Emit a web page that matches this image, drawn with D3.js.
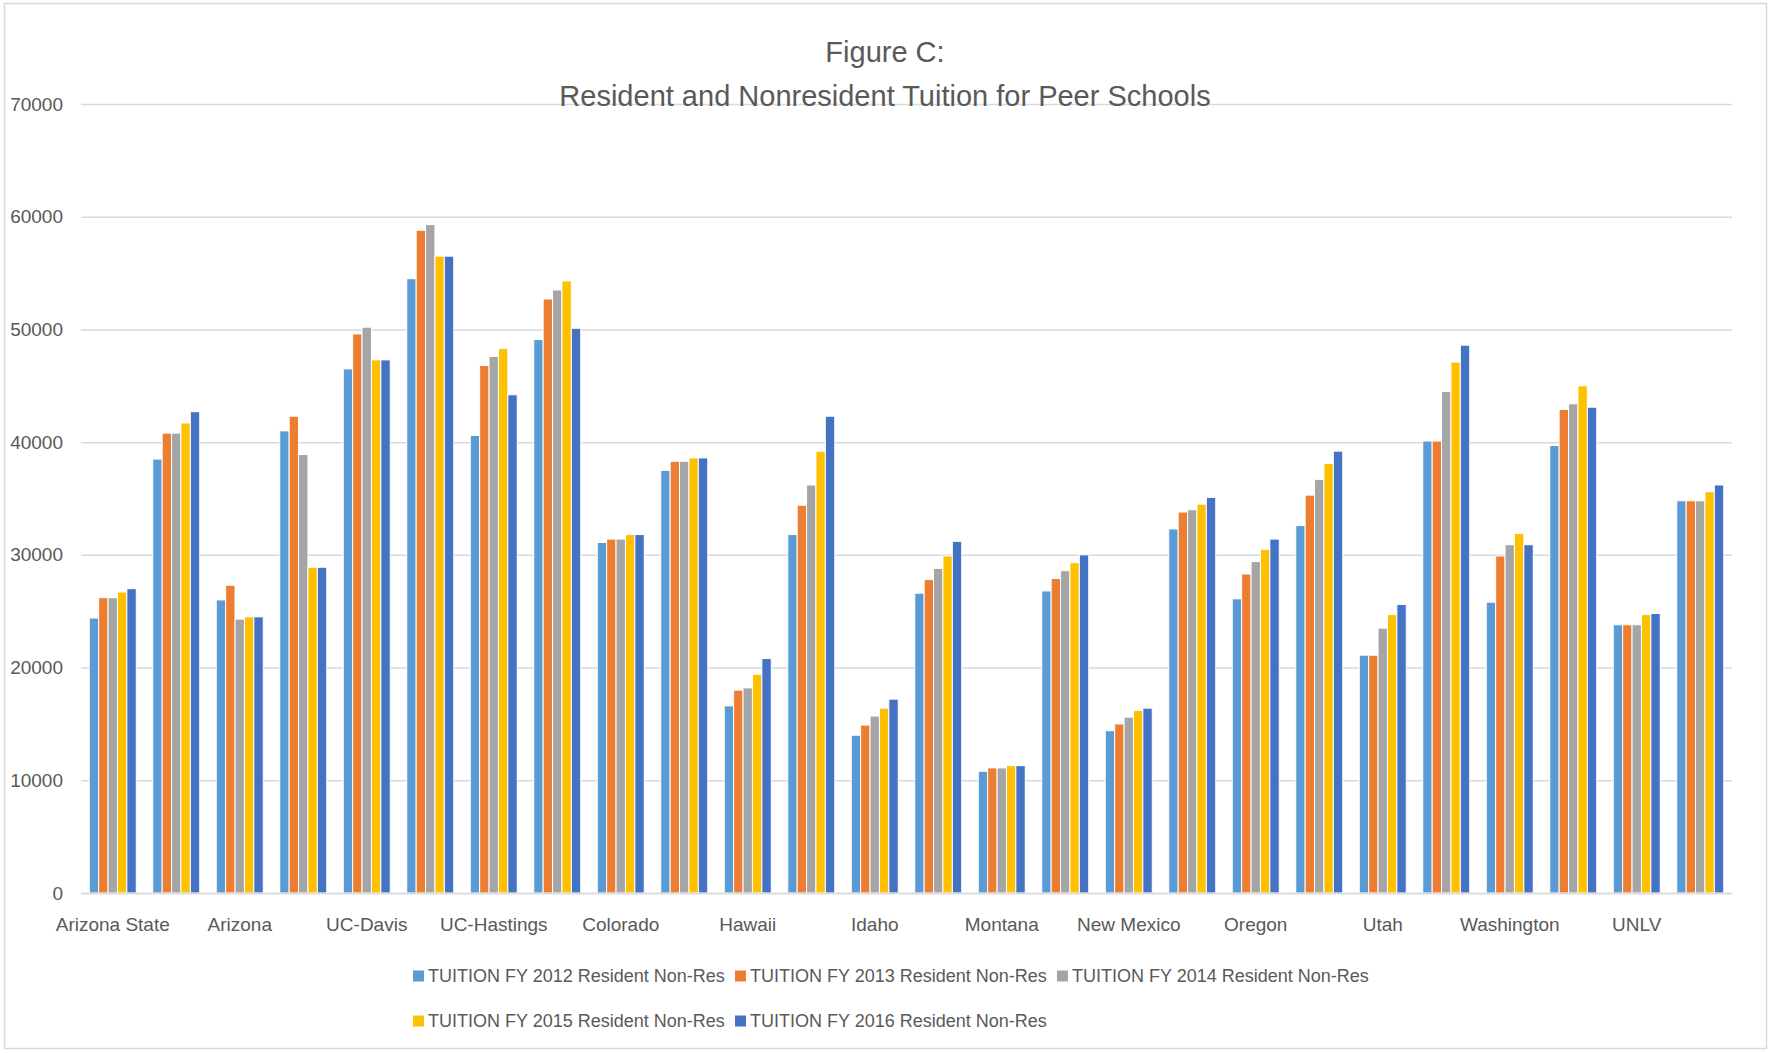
<!DOCTYPE html>
<html>
<head>
<meta charset="utf-8">
<script src="https://cdn.jsdelivr.net/npm/d3@7/dist/d3.min.js"></script>
<style>
  html, body { margin: 0; padding: 0; background: #fff; }
  svg { display: block; }
  text { font-family: "Liberation Sans", Arial, sans-serif; fill: #595959; }
</style>
</head>
<body>
<svg id="chart" width="1769" height="1053"></svg>
<script>
// ---- data ----
const schools = ["Arizona State","Arizona","UC-Davis","UC-Hastings","Colorado","Hawaii","Idaho","Montana","New Mexico","Oregon","Utah","Washington","UNLV"];
const residency = ["Resident","Non-Res"];
const seriesNames = [
  "TUITION FY 2012 Resident Non-Res",
  "TUITION FY 2013 Resident Non-Res",
  "TUITION FY 2014 Resident Non-Res",
  "TUITION FY 2015 Resident Non-Res",
  "TUITION FY 2016 Resident Non-Res"
];
const fy2012 = [24400,38500,26000,41000,46500,54500,40600,49100,31100,37500,16600,31800,14000,26600,10800,26800,14400,32300,26100,32600,21100,40100,25800,39700,23800,34800];
const fy2013 = [26200,40800,27300,42300,49600,58800,46800,52700,31400,38300,18000,34400,14900,27800,11100,27900,15000,33800,28300,35300,21100,40100,29900,42900,23800,34800];
const fy2014 = [26200,40800,24300,38900,50200,59300,47600,53500,31400,38300,18200,36200,15700,28800,11100,28600,15600,34000,29400,36700,23500,44500,30900,43400,23800,34800];
const fy2015 = [26700,41700,24500,28900,47300,56500,48300,54300,31800,38600,19400,39200,16400,29900,11300,29300,16200,34500,30500,38100,24700,47100,31900,45000,24700,35600];
const fy2016 = [27000,42700,24500,28900,47300,56500,44200,50100,31800,38600,20800,42300,17200,31200,11300,30000,16400,35100,31400,39200,25600,48600,30900,43100,24800,36200];
const yTicks = [0,10000,20000,30000,40000,50000,60000,70000];
const colors = ["#5B9BD5","#ED7D31","#A5A5A5","#FFC000","#4472C4"];

// ---- build ----
const categories = [];
schools.forEach(s => residency.forEach(r => categories.push(s + " " + r)));
const tickLabel = {};
schools.forEach(s => { tickLabel[s + " Resident"] = s; });
const seriesValues = [fy2012, fy2013, fy2014, fy2015, fy2016];

const svg = d3.select("#chart");
svg.append("rect").attr("x",4.5).attr("y",3.5).attr("width",1762).attr("height",1045)
  .attr("fill","#fff").attr("stroke","#d9d9d9").attr("stroke-width",1.5);

const plotL = 81, plotR = 1732, plotT = 104, plotB = 893;

const x0 = d3.scaleBand().domain(categories).range([plotL, plotR])
  .paddingInner(0.26).paddingOuter(0.13);
const x1 = d3.scaleBand().domain(d3.range(seriesNames.length)).range([0, x0.bandwidth()]);
const y = d3.scaleLinear().domain([0, 70000]).range([plotB, plotT]);

// gridlines
const grid = svg.append("g").attr("transform", `translate(${plotL},0)`)
  .call(d3.axisLeft(y).tickValues(yTicks).tickSize(-(plotR-plotL)).tickFormat(""));
grid.select(".domain").remove();
grid.selectAll("line").attr("stroke","#d9d9d9").attr("stroke-width",1.5);

// y labels
const yAxis = svg.append("g").attr("transform", `translate(63,0)`)
  .call(d3.axisLeft(y).tickValues(yTicks).tickSize(0).tickPadding(0).tickFormat(d3.format("d")));
yAxis.select(".domain").remove();
yAxis.selectAll("text").attr("font-size", 19).attr("fill","#595959")
  .style("font-family", '"Liberation Sans", Arial, sans-serif');

// title
const title = svg.append("text").attr("x", 885).attr("text-anchor","middle").attr("font-size", 29);
title.append("tspan").attr("x", 885).attr("y", 62).text("Figure C:");
title.append("tspan").attr("x", 885).attr("y", 106).text("Resident and Nonresident Tuition for Peer Schools");

// bars
const rows = categories.map((c, i) => ({ cat: c, vals: seriesValues.map(s => s[i]) }));
const groups = svg.append("g").selectAll("g").data(rows).join("g")
  .attr("transform", d => `translate(${x0(d.cat)},0)`);
groups.selectAll("rect").data(d => d.vals.map((v, k) => ({ v, k }))).join("rect")
  .attr("x", d => x1(d.k))
  .attr("width", x1.bandwidth())
  .attr("y", d => y(d.v))
  .attr("height", d => y(0) - y(d.v))
  .attr("fill", d => colors[d.k])
  .attr("stroke", "#fff").attr("stroke-width", 1);

// x axis
const xAxis = svg.append("g").attr("transform", `translate(0,${plotB})`)
  .call(d3.axisBottom(x0).tickSize(0).tickPadding(25).tickFormat(c => tickLabel[c] || ""));
xAxis.select(".domain").attr("stroke","#d9d9d9").attr("stroke-width",1.5);
xAxis.selectAll("text").attr("font-size", 19).attr("fill","#595959")
  .style("font-family", '"Liberation Sans", Arial, sans-serif');

// legend
const legendPos = [[413,976],[735,976],[1057,976],[413,1021],[735,1021]];
const legend = svg.append("g").selectAll("g").data(seriesNames).join("g")
  .attr("transform", (d, i) => `translate(${legendPos[i][0]},${legendPos[i][1]})`);
legend.append("rect").attr("x",0).attr("y",-5.5).attr("width",11).attr("height",11)
  .attr("fill", (d, i) => colors[i]);
legend.append("text").attr("x",15).attr("y",0).attr("dy","0.35em").attr("font-size",18).text(d => d);
</script>
</body>
</html>
